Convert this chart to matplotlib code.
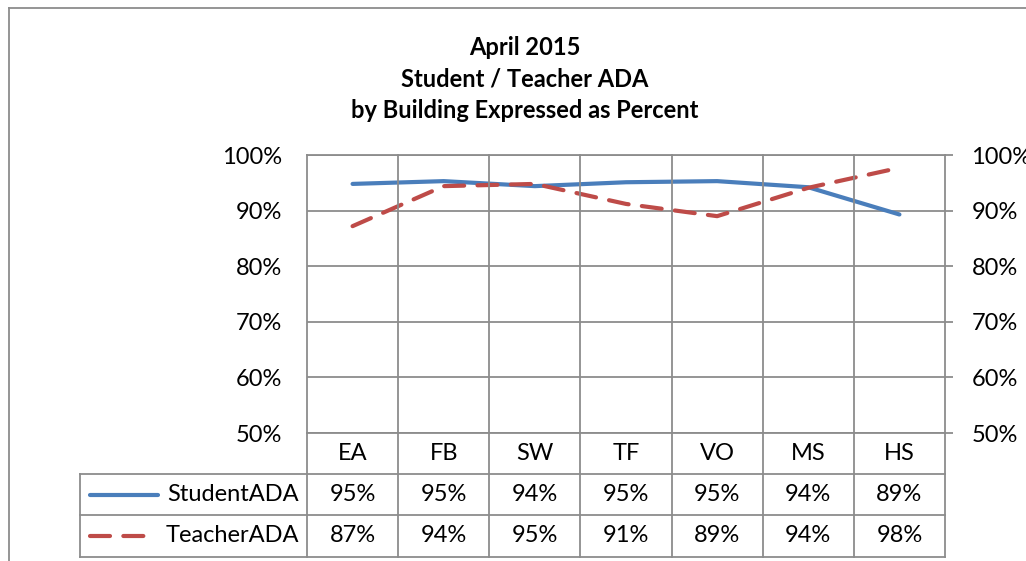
import numpy as np
import matplotlib.pyplot as plt
from matplotlib.lines import Line2D
from matplotlib.ticker import FuncFormatter

buildings = ['EA', 'FB', 'SW', 'TF', 'VO', 'MS', 'HS']
student_ada = [94.8, 95.3, 94.4, 95.1, 95.3, 94.2, 89.3]
teacher_ada = [87.2, 94.4, 94.8, 91.2, 89.0, 94.1, 97.7]
student_labels = ['95%', '95%', '94%', '95%', '95%', '94%', '89%']
teacher_labels = ['87%', '94%', '95%', '91%', '89%', '94%', '98%']
y_ticks = [50, 60, 70, 80, 90, 100]
title = 'April 2015\nStudent / Teacher ADA\nby Building Expressed as Percent'

W, H = 1026, 561
BLUE = '#4A7EBB'
RED = '#BE4B48'
GRID = '#8c8c8c'
FS = 17

plt.rcParams['font.family'] = ['Lato', 'DejaVu Sans']

fig = plt.figure(figsize=(W / 100, H / 100), dpi=100)

# pixel helpers
def fx(px):
    return px / W

def fy(py):
    return 1 - py / H

def hline(x0, x1, y, **kw):
    fig.add_artist(Line2D([fx(x0), fx(x1)], [fy(y), fy(y)], color=GRID, lw=1.3, **kw))

def vline(x, y0, y1, **kw):
    fig.add_artist(Line2D([fx(x), fx(x)], [fy(y0), fy(y1)], color=GRID, lw=1.3, **kw))

left, right, top, bottom = 307, 945, 155, 433
ax = fig.add_axes([fx(left), fy(bottom), fx(right) - fx(left), fy(top) - fy(bottom)])

x = np.arange(len(buildings))
ax.plot(x, student_ada, color=BLUE, lw=3.0, solid_capstyle='round', zorder=3)
ax.plot(x, teacher_ada, color=RED, lw=3.0, dashes=(4.8, 3.2), dash_capstyle='round', zorder=3)

ax.set_xlim(-0.5, len(buildings) - 0.5)
ax.set_ylim(50, 100)
ax.set_yticks(y_ticks)
ax.yaxis.set_major_formatter(FuncFormatter(lambda v, p: f'{v:.0f}%'))
ax.set_xticks([])
ax.tick_params(axis='y', length=0, labelsize=FS, pad=18)
ax.grid(axis='y', color=GRID, lw=1.3)
for s in ax.spines.values():
    s.set_color(GRID)
    s.set_linewidth(1.3)
ax.spines['bottom'].set_visible(False)

ax2 = ax.twinx()
ax2.set_ylim(50, 100)
ax2.set_yticks(y_ticks)
ax2.yaxis.set_major_formatter(FuncFormatter(lambda v, p: f'{v:.0f}%'))
ax2.tick_params(axis='y', length=6, width=1.3, color=GRID, labelsize=FS, pad=13)
for s in ax2.spines.values():
    s.set_visible(False)

# vertical gridlines between categories, continuing through the data table
col_w = (right - left) / len(buildings)
row_lines = [433, 474, 515, 557]
for i in range(1, len(buildings)):
    vline(left + i * col_w, top, row_lines[-1])
vline(left, bottom, row_lines[-1])
vline(right, bottom, row_lines[-1])
vline(80, row_lines[1], row_lines[-1])
hline(left, right, row_lines[0])
for yy in row_lines[1:]:
    hline(80, right, yy)

# data table text
for i, b in enumerate(buildings):
    cx = fx(left + (i + 0.5) * col_w)
    fig.text(cx, fy((row_lines[0] + row_lines[1]) / 2), b, ha='center', va='center', fontsize=FS)
    fig.text(cx, fy((row_lines[1] + row_lines[2]) / 2), student_labels[i], ha='center', va='center', fontsize=FS)
    fig.text(cx, fy((row_lines[2] + row_lines[3]) / 2), teacher_labels[i], ha='center', va='center', fontsize=FS)

y1 = fy((row_lines[1] + row_lines[2]) / 2)
y2 = fy((row_lines[2] + row_lines[3]) / 2)
fig.add_artist(Line2D([fx(90), fx(158)], [y1, y1], color=BLUE, lw=3.0, solid_capstyle='round'))
fig.add_artist(Line2D([fx(90), fx(153)], [y2, y2], color=RED, lw=3.0, dashes=(4.8, 3.2), dash_capstyle='round'))
fig.text(fx(299), y1, 'StudentADA', ha='right', va='center', fontsize=FS)
fig.text(fx(299), y2, 'TeacherADA', ha='right', va='center', fontsize=FS)

fig.text(fx(525), fy(79), title, ha='center', va='center', fontsize=FS,
         fontweight='bold', linespacing=1.47)

# chart border
hline(9, W, 8)
vline(9, 8, H)

fig.savefig('out.png', dpi=100)
